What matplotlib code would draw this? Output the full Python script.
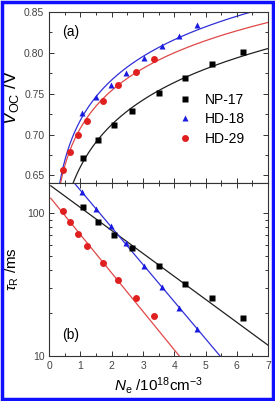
import matplotlib
matplotlib.use("Agg")
from matplotlib import pyplot as plt
from matplotlib.patches import Rectangle
from matplotlib.ticker import MultipleLocator, FixedLocator, FixedFormatter, NullFormatter, LogLocator
import numpy as np

plt.rcParams["font.family"] = ["Liberation Sans", "DejaVu Sans"]
plt.rcParams["mathtext.fontset"] = "custom"
plt.rcParams["mathtext.rm"] = "Liberation Sans"
plt.rcParams["mathtext.it"] = "Liberation Sans:italic"

# (a) open-circuit voltage vs electron density
np17_n = [1.07, 1.57, 2.07, 2.66, 3.52, 4.35, 5.22, 6.20]
np17_voc = [0.672, 0.693, 0.712, 0.729, 0.751, 0.769, 0.786, 0.801]
hd18_n = [1.04, 1.49, 1.97, 2.44, 3.03, 3.62, 4.15, 4.72]
hd18_voc = [0.727, 0.746, 0.761, 0.775, 0.794, 0.808, 0.821, 0.834]
hd29_n = [0.43, 0.65, 0.91, 1.21, 1.71, 2.21, 2.77, 3.35]
hd29_voc = [0.657, 0.679, 0.699, 0.717, 0.741, 0.761, 0.777, 0.792]

# (b) recombination lifetime vs electron density
np17_tau = [110, 87.3, 70.3, 57, 42.5, 32, 25.4, 18.5]
hd18_tau = [141, 107, 81.5, 61.5, 42.4, 30.2, 21.7, 15.5]
hd29_tau = [104, 86.9, 71.9, 58.9, 44.8, 34.1, 25.4, 19]

names = ["NP-17", "HD-18", "HD-29"]
colors = ["black", "#1a1ae0", "#e02020"]
line_colors = ["#202020", "#3030d8", "#e04848"]
markers = ["s", "^", "o"]
sizes = [4, 5, 5]

fig = plt.figure(figsize=(2.75, 4.01), dpi=100)
ax1 = fig.add_axes([0.179, 0.544, 0.796, 0.426])
ax2 = fig.add_axes([0.179, 0.112, 0.796, 0.432])

sets_a = [(np17_n, np17_voc), (hd18_n, hd18_voc), (hd29_n, hd29_voc)]
sets_b = [(np17_n, np17_tau), (hd18_n, hd18_tau), (hd29_n, hd29_tau)]

xx = np.linspace(0.05, 7, 400)
for (n, v), name, c, lc, m, s in zip(sets_a, names, colors, line_colors, markers, sizes):
    b, a = np.polyfit(np.log(n), v, 1)
    ax1.plot(xx, a + b * np.log(xx), color=lc, lw=0.9, zorder=1)
    ax1.plot(n, v, m, color=c, ms=s, mec="none", label=name, zorder=2)

# exponential fits, weighted like a fit in linear space
for (n, t), c, lc, m, s in zip(sets_b, colors, line_colors, markers, sizes):
    k, c0 = np.polyfit(n, np.log10(t), 1, w=np.array(t))
    ax2.plot(xx, 10 ** (c0 + k * xx), color=lc, lw=0.9, zorder=1)
    ax2.plot(n, t, m, color=c, ms=s, mec="none", zorder=2)

ax1.set_xlim(0, 7)
ax1.set_ylim(0.641, 0.85)
ax1.yaxis.set_major_locator(MultipleLocator(0.05))
ax1.yaxis.set_minor_locator(MultipleLocator(0.025))
ax1.xaxis.set_major_locator(MultipleLocator(1))
ax1.xaxis.set_minor_locator(MultipleLocator(0.5))
ax1.xaxis.set_major_formatter(NullFormatter())
ax1.set_ylabel(r"$V_{\mathrm{OC}}$ /V", fontsize=13, labelpad=2)
ax1.text(0.06, 0.86, "(a)", transform=ax1.transAxes, fontsize=10)
ax1.legend(loc="lower right", frameon=False, fontsize=10, handletextpad=0.4,
           borderaxespad=0.8, labelspacing=0.4, bbox_to_anchor=(0.97, 0.12))

ax2.set_yscale("log")
ax2.set_xlim(0, 7)
ax2.set_ylim(10, 163)
ax2.xaxis.set_major_locator(MultipleLocator(1))
ax2.xaxis.set_minor_locator(MultipleLocator(0.5))
ax2.yaxis.set_major_locator(FixedLocator([10, 100]))
ax2.yaxis.set_major_formatter(FixedFormatter(["10", "100"]))
ax2.yaxis.set_minor_locator(LogLocator(base=10, subs=np.arange(2, 10)))
ax2.yaxis.set_minor_formatter(NullFormatter())
ax2.set_ylabel(r"$\tau_{\mathrm{R}}$ /ms", fontsize=11, labelpad=4)
ax2.set_xlabel(r"$N_{\mathrm{e}}$ /10$^{18}$cm$^{-3}$", fontsize=11, labelpad=3)
ax2.text(0.06, 0.1, "(b)", transform=ax2.transAxes, fontsize=10)

for ax in (ax1, ax2):
    ax.tick_params(which="both", direction="in", top=True, right=True,
                   labelsize=7.5, width=0.7, colors="#333333", labelcolor="#444444")
    ax.tick_params(which="major", length=3.5)
    ax.tick_params(which="minor", length=2)
    for sp in ax.spines.values():
        sp.set_linewidth(0.8)
        sp.set_color("#333333")

fig.patches.append(Rectangle((0.006, 0.004), 0.988, 0.992, transform=fig.transFigure,
                             fill=False, edgecolor="#1010ff", lw=2.5))

plt.savefig("out.png", dpi=100)
